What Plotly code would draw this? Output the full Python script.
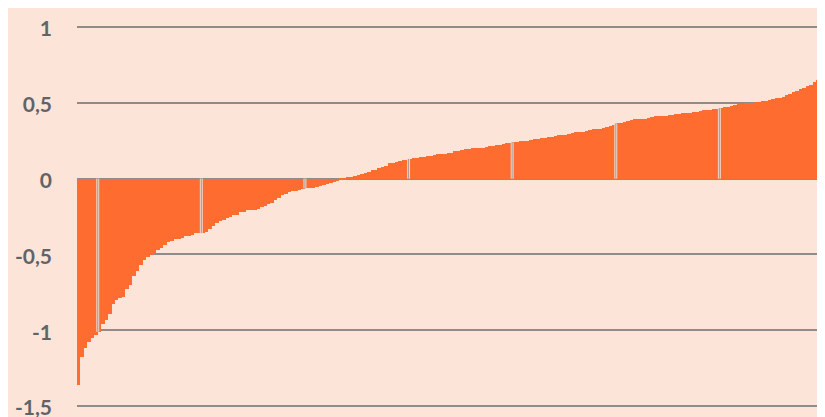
import plotly.graph_objects as go

# Sorted values, one per category
values = [
    -1.36, -1.18, -1.12, -1.08, -1.05, -1.035, -1.01, -0.96, -0.93, -0.89,
    -0.83, -0.80, -0.79, -0.78, -0.73, -0.70, -0.64, -0.61, -0.57, -0.54,
    -0.52, -0.505, -0.50, -0.47, -0.46, -0.44, -0.42, -0.41, -0.40, -0.40,
    -0.39, -0.38, -0.38, -0.37, -0.36, -0.36, -0.36, -0.35, -0.33, -0.31,
    -0.29, -0.28, -0.27, -0.26, -0.255, -0.24, -0.24, -0.22, -0.22, -0.21,
    -0.21, -0.205, -0.20, -0.19, -0.18, -0.165, -0.16, -0.14, -0.125, -0.105,
    -0.10, -0.09, -0.085, -0.08, -0.075, -0.07, -0.065, -0.06, -0.06, -0.055,
    -0.05, -0.045, -0.035, -0.03, -0.02, -0.015, -0.008, -0.003, 0.005, 0.01,
    0.02, 0.025, 0.03, 0.04, 0.045, 0.055, 0.06, 0.07, 0.075, 0.085,
    0.10, 0.105, 0.11, 0.115, 0.12, 0.125, 0.13, 0.135, 0.135, 0.14,
    0.145, 0.15, 0.15, 0.155, 0.16, 0.165, 0.165, 0.17, 0.17, 0.18,
    0.185, 0.19, 0.195, 0.195, 0.20, 0.20, 0.205, 0.205, 0.21, 0.215,
    0.215, 0.22, 0.225, 0.23, 0.235, 0.235, 0.24, 0.24, 0.245, 0.25,
    0.25, 0.255, 0.26, 0.26, 0.265, 0.27, 0.275, 0.275, 0.28, 0.285,
    0.29, 0.29, 0.295, 0.30, 0.305, 0.31, 0.31, 0.315, 0.32, 0.325,
    0.325, 0.33, 0.335, 0.34, 0.35, 0.355, 0.365, 0.37, 0.375, 0.38,
    0.385, 0.39, 0.39, 0.395, 0.395, 0.40, 0.405, 0.41, 0.41, 0.415,
    0.415, 0.42, 0.42, 0.425, 0.425, 0.43, 0.43, 0.435, 0.44, 0.44,
    0.445, 0.45, 0.455, 0.455, 0.46, 0.46, 0.465, 0.47, 0.475, 0.48,
    0.485, 0.49, 0.495, 0.50, 0.50, 0.50, 0.505, 0.505, 0.51, 0.515,
    0.52, 0.525, 0.53, 0.535, 0.54, 0.55, 0.56, 0.57, 0.58, 0.59,
    0.60, 0.61, 0.62, 0.635, 0.65, 0.69,
]
categories = list(range(len(values)))

# category boundaries where the thin separators show through the bars
separator_idx = [6, 36, 66, 96, 126, 156, 186, 216]

tick_vals = [1, 0.5, 0, -0.5, -1, -1.5]
tick_text = ["1", "0,5", "0", "-0,5", "-1", "-1,5"]

bg = "#FCE4D8"
bar_color = "#FF6C30"
grid_color = "#8F8B89"

fig = go.Figure()
fig.add_trace(go.Bar(
    x=categories,
    y=values,
    marker=dict(color=bar_color, line=dict(width=0)),
    hoverinfo="skip",
))

# separators: pale gap with a grey hairline, only inside the bar
for k in separator_idx:
    v = values[min(k, len(values) - 1)]
    fig.add_shape(type="line", xref="x", yref="y", x0=k - 0.5, x1=k - 0.5, y0=0, y1=v,
                  line=dict(color="#EFD3C6", width=3), layer="above")
    fig.add_shape(type="line", xref="x", yref="y", x0=k - 0.5, x1=k - 0.5, y0=0, y1=v,
                  line=dict(color="#A69D99", width=1), layer="above")

# page body adds an 8px margin, so the figure is 8px smaller than the window
fig.update_layout(
    width=817,
    height=409,
    paper_bgcolor=bg,
    plot_bgcolor=bg,
    bargap=0,
    showlegend=False,
    margin=dict(l=69, r=2, t=16, b=8),
)

fig.update_xaxes(
    range=[-0.5, len(values) - 0.5],
    showgrid=False,
    showticklabels=False,
    zeroline=False,
    showline=False,
    ticks="",
    automargin=False,
)
fig.update_yaxes(
    range=[-1.52, 1.02],
    tickvals=tick_vals,
    ticktext=tick_text,
    showgrid=True,
    gridcolor=grid_color,
    gridwidth=2,
    zeroline=True,
    zerolinecolor=grid_color,
    zerolinewidth=2,
    showline=False,
    ticks="",
    ticklabelstandoff=24,
    ticklabelshift=2,
    ticklabeloverflow="allow",
    automargin=False,
    tickfont=dict(family="Lato", size=21, color="#5E6469", weight="bold"),
)

fig.write_html("out.html")
